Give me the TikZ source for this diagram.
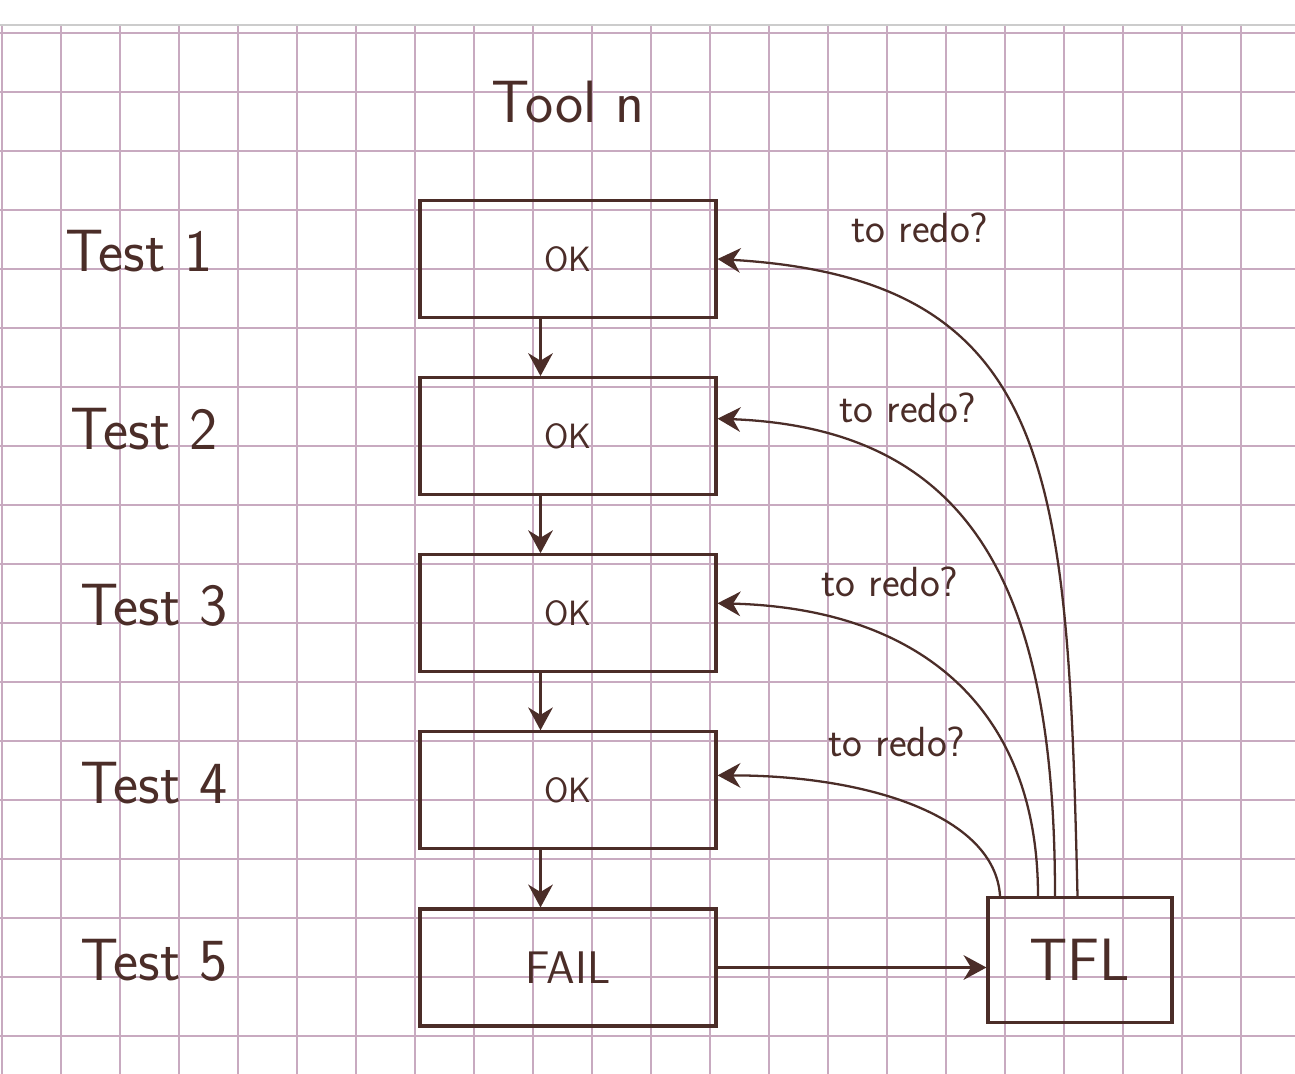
\documentclass[tikz,border=0pt]{standalone}
\usepackage{fontspec}
\usetikzlibrary{arrows.meta,positioning}
\definecolor{ink}{RGB}{75,45,40}
\definecolor{gridline}{RGB}{200,170,192}

\begin{document}
\begin{tikzpicture}[x=0.02cm,y=-0.02cm,node distance=1.14cm,>={Stealth[length=13pt,width=14pt]},
  box/.style={draw=ink,line width=1.8pt,minimum width=5.92cm,minimum height=2.34cm,text=ink,font=\sffamily\fontsize{20}{24}\selectfont},
  testlabel/.style={text=ink,font=\sffamily\fontsize{34}{38}\selectfont},
  redo/.style={text=ink,font=\sffamily\fontsize{24}{28}\selectfont},
  flow/.style={->,draw=ink,line width=1.6pt},
  back/.style={->,draw=ink,line width=1.3pt}]
\fill[white] (0,0) rectangle (1295,1074);
\useasboundingbox (0,0) rectangle (1295,1074);
% squared paper
\foreach \gx in {2,61,...,1300} \draw[gridline,line width=0.6pt] (\gx,25) -- (\gx,1074);
\foreach \gy in {33,92,...,1074} \draw[gridline,line width=0.6pt] (0,\gy) -- (1295,\gy);
\draw[gray!40,line width=1.5pt] (0,25) -- (1295,25);

% test boxes
\node[box] (t1) at (568,259) {OK};
\node[box,below=of t1] (t2) {OK};
\node[box,below=of t2] (t3) {OK};
\node[box,below=of t3] (t4) {OK};
\node[box,below=of t4,font=\sffamily\fontsize{26}{30}\selectfont] (t5) {FAIL};
\node[draw=ink,line width=1.8pt,minimum width=3.68cm,minimum height=2.5cm,text=ink,font=\sffamily\fontsize{34}{38}\selectfont] (tfl) at (1080,960) {TFL};

% labels
\node[testlabel,above=1.4cm of t1] (tool) {Tool n};
\node[testlabel,left=4.0cm of t1,yshift=0.15cm] (l1) {Test 1};
\node[testlabel,left=3.9cm of t2,yshift=0.15cm] (l2) {Test 2};
\node[testlabel,left=3.7cm of t3,yshift=0.15cm] (l3) {Test 3};
\node[testlabel,left=3.7cm of t4,yshift=0.15cm] (l4) {Test 4};
\node[testlabel,left=3.7cm of t5,yshift=0.15cm] (l5) {Test 5};
\node[redo] (r1) at (920,228) {to redo?};
\node[redo] (r2) at (908,408) {to redo?};
\node[redo] (r3) at (890,582) {to redo?};
\node[redo] (r4) at (897,742) {to redo?};

% arrows
\foreach \a/\b in {t1/t2,t2/t3,t3/t4,t4/t5}
  \draw[flow] ([xshift=-0.55cm]\a.south) -- ([xshift=-0.55cm]\b.north);
\draw[flow] (t5.east) -- (t5.east -| tfl.west);
\draw[back] ([xshift=-0.05cm]tfl.north) .. controls +(-10,-420) and +(340,20) .. (t1.east);
\draw[back] ([xshift=-0.5cm]tfl.north) .. controls +(0,-300) and +(260,10) .. ([yshift=0.35cm]t2.east);
\draw[back] ([xshift=-0.84cm]tfl.north) .. controls +(0,-190) and +(200,5) .. ([yshift=0.2cm]t3.east);
\draw[back] ([xshift=-1.6cm]tfl.north) .. controls +(-5,-80) and +(150,0) .. ([yshift=0.3cm]t4.east);
\end{tikzpicture}
\end{document}
